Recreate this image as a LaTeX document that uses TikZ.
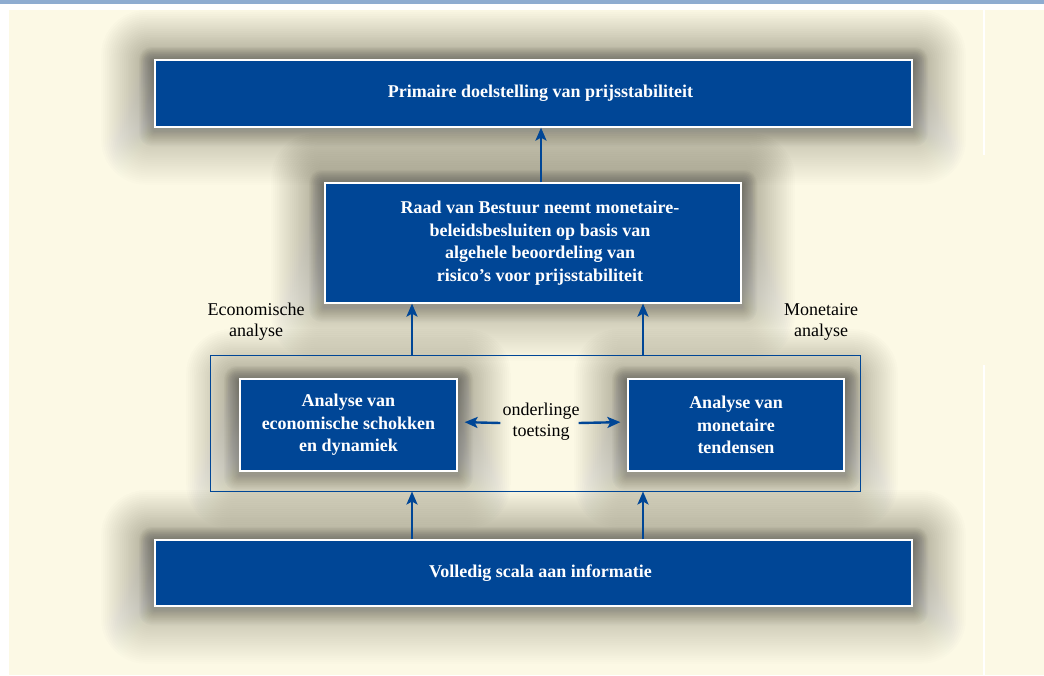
\documentclass[tikz,border=0pt]{standalone}
\usepackage{fontspec}
\setmainfont{Liberation Serif}
\usetikzlibrary{arrows.meta}
\definecolor{ecbblue}{RGB}{0,70,150}
\definecolor{cream}{RGB}{252,249,229}
\definecolor{topbar}{RGB}{142,172,208}
\definecolor{shade}{RGB}{60,55,30}
\pgfdeclarelayer{bgzero}
\pgfdeclarelayer{bgone}
\pgfsetlayers{bgzero,bgone,main}
\newcommand\softglow[1]{%
  \foreach \i in {1,...,28}{%
    \fill[shade, opacity=0.0095, rounded corners={\i*1.6pt}]
      ([xshift={-\i*1.9pt}, yshift={\i*1.9pt-4pt}]#1.north west) rectangle
      ([xshift={\i*1.9pt}, yshift={-\i*1.9pt-4pt}]#1.south east);
  }%
  \foreach \i in {1,...,14}{%
    \fill[shade, opacity=0.019, rounded corners={\i*0.9pt}]
      ([xshift={-\i*1.1pt}, yshift={\i*1.1pt-3pt}]#1.north west) rectangle
      ([xshift={\i*1.1pt}, yshift={-\i*1.1pt-3pt}]#1.south east);
  }%
}
\newcommand\sh{\hspace*{14pt}}
\begin{document}
\begin{tikzpicture}[x=1pt,y=-1pt,
  bluebox/.style={draw=white, line width=1.2pt, fill=ecbblue, text=white,
    font=\bfseries\fontsize{18}{22.5}\selectfont, align=center, inner sep=0pt},
  arr/.style={draw=ecbblue, line width=2.4pt, -{Stealth[length=13pt,width=11pt,inset=3pt]}},
  dbl/.style={draw=ecbblue, line width=2.4pt, -{Stealth[length=13pt,width=11pt,inset=3pt]}, shorten >=7pt},
  lbl/.style={font=\fontsize{18}{21}\selectfont, align=center, text=black},
  frm/.style={draw=ecbblue, line width=1pt}]
\useasboundingbox (0,0) rectangle (1044,675);
\begin{pgfonlayer}{bgzero}
\fill[white] (0,0) rectangle (1044,675);
\fill[cream] (9,10) rectangle (1044,675);
\fill[topbar] (0,0) rectangle (1044,4);
\fill[white] (982.5,10) rectangle (985,155);
\fill[white] (982.5,365) rectangle (985,675);
\end{pgfonlayer}
% nodes
\node[bluebox, minimum width=757pt, minimum height=67pt] (top) at (533.5,93.5) {\sh Primaire doelstelling van prijsstabiliteit};
\node[bluebox, minimum width=416pt, minimum height=120pt] (mid) at (533,243) {\sh Raad van Bestuur neemt monetaire-\\\sh beleidsbesluiten op basis van\\\sh algehele beoordeling van\\\sh risico’s voor prijsstabiliteit};
\node[frm, minimum width=650pt, minimum height=136pt, inner sep=0pt] (frame) at (535,423) {};
\node[bluebox, minimum width=217pt, minimum height=92pt] (econ) at (348.5,425) {Analyse van\\economische schokken\\en dynamiek};
\node[bluebox, minimum width=216pt, minimum height=92pt] (mon) at (736,425) {Analyse van\\monetaire\\tendensen};
\node[bluebox, minimum width=757pt, minimum height=66pt] (info) at (533.5,573) {\sh Volledig scala aan informatie};
\node[lbl, inner sep=2pt] (cross) at (541,422) {onderlinge\\toetsing};
\node[lbl] (elbl) at (256,322) {Economische\\analyse};
\node[lbl] (mlbl) at (821,322) {Monetaire\\analyse};
\begin{pgfonlayer}{bgone}
\softglow{top}
\softglow{mid}
\softglow{econ}
\softglow{mon}
\softglow{info}
\end{pgfonlayer}
\coordinate (ax0) at (541,0);
\coordinate (ax1) at (412,0);
\coordinate (ax2) at (643,0);
% connectors
\draw[arr] (mid.north -| ax0) -- (top.south -| ax0);
\draw[arr] (frame.north -| ax1) -- (mid.south -| ax1);
\draw[arr] (frame.north -| ax2) -- (mid.south -| ax2);
\draw[arr] (info.north -| ax1) -- (frame.south -| ax1);
\draw[arr] (info.north -| ax2) -- (frame.south -| ax2);
\draw[dbl] ([yshift=-1pt]cross.west) -- (econ.east |- cross.west);
\draw[dbl] ([yshift=-1pt, xshift=-3pt]cross.east) -- (mon.west |- cross.east);
\end{tikzpicture}
\end{document}
